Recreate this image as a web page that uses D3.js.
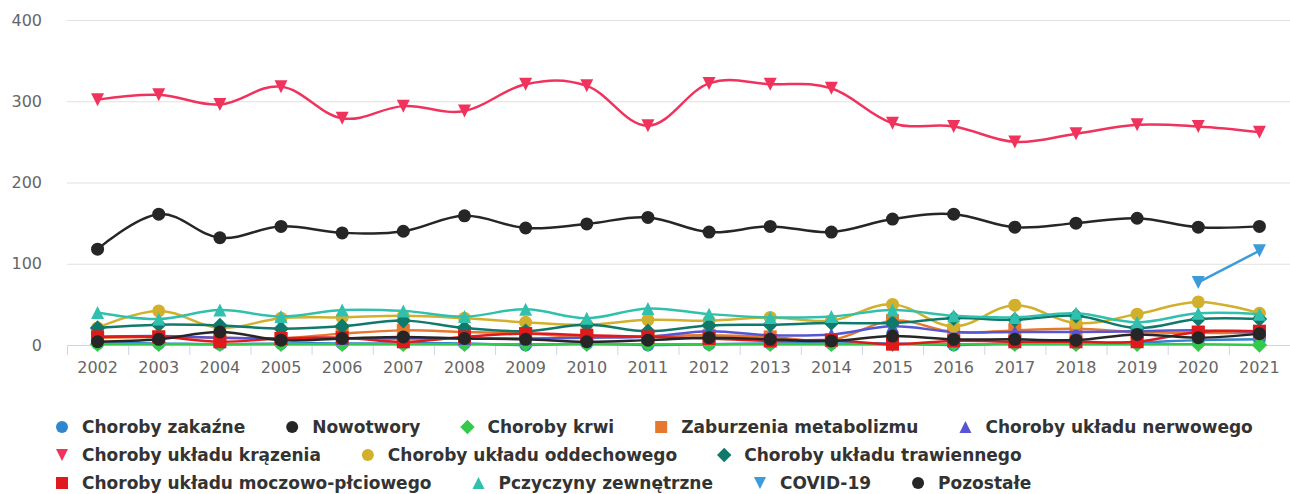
<!DOCTYPE html>
<html><head><meta charset="utf-8">
<script src="https://cdn.jsdelivr.net/npm/d3@7"></script>
<style>
html,body{margin:0;padding:0;background:#fff;}
svg{display:block;}
</style></head>
<body>
<svg id="chart" width="1290" height="494"></svg>
<script>
const years = ["2002","2003","2004","2005","2006","2007","2008","2009","2010","2011","2012","2013","2014","2015","2016","2017","2018","2019","2020","2021"];
const yTicks = [0,100,200,300,400];

const seriesNames = ["Choroby zakaźne","Nowotwory","Choroby krwi","Zaburzenia metabolizmu","Choroby układu nerwowego","Choroby układu krązenia","Choroby układu oddechowego","Choroby układu trawiennego","Choroby układu moczowo-płciowego","Pczyczyny zewnętrzne","COVID-19","Pozostałe"];

const zakazne     = [2,2,1,2,2,2,2,0,2,0,1,2,2,2,0,2,2,3,6,7];
const nowotwory   = [118,161,132,146,138,140,159,144,149,157,139,146,139,155,161,145,150,156,145,146];
const krwi        = [1,1,1,1,1,1,1,1,1,1,1,1,1,1,1,1,1,1,1,0];
const metabolizm  = [9,10,9,8,14,18,16,14,10,11,12,10,6,30,16,18,20,16,15,15];
const nerwowego   = [10,11,9,8,8,8,8,8,9,10,17,12,13,23,16,16,16,17,18,16];
const krazenia    = [302,308,296,318,279,294,288,321,319,270,322,321,316,273,269,250,260,271,269,262];
const oddechowego = [21,42,21,33,34,36,33,28,25,31,30,34,30,50,23,49,27,38,53,39];
const trawiennego = [21,25,24,20,23,30,21,17,25,17,24,25,27,27,33,31,36,21,32,32];
const moczowo     = [10,10,4,8,9,4,10,14,12,10,8,5,6,1,5,4,4,4,16,17];
const zewnetrzne  = [40,32,43,35,43,42,35,44,33,45,38,34,35,43,36,34,39,28,39,38];
const covid       = [null,null,null,null,null,null,null,null,null,null,null,null,null,null,null,null,null,null,77,116];
const pozostale   = [4,7,16,6,8,10,8,7,4,6,9,7,5,11,7,7,6,13,9,14];

const seriesValues = [zakazne,nowotwory,krwi,metabolizm,nerwowego,krazenia,oddechowego,trawiennego,moczowo,zewnetrzne,covid,pozostale];
const seriesColors = ["#2f86cc","#262626","#34c94a","#e8772e","#5656d4","#f0335d","#d2b02c","#0f7a6b","#e0191c","#30c0ad","#3c9bd8","#262626"];
const seriesSymbols = ["circle","circle","diamond","square","triangle","triangleDown","circle","diamond","square","triangle","triangleDown","circle"];

const svg = d3.select("#chart");
const plotLeft = 67, plotRight = 1290, plotTop = 20, plotBottom = 345;

const x = d3.scaleBand().domain(years).range([plotLeft, plotRight]).padding(0);
const y = d3.scaleLinear().domain([0,400]).range([plotBottom, plotTop]);
const cx = d => x(d) + x.bandwidth()/2;

// gridlines
svg.append("g").selectAll("line").data(yTicks.filter(t=>t>0)).join("line")
  .attr("x1", plotLeft).attr("x2", plotRight)
  .attr("y1", d=>y(d)+0.5).attr("y2", d=>y(d)+0.5)
  .attr("stroke","#e3dfdb").attr("stroke-width",1);

// y labels
svg.append("g").selectAll("text").data(yTicks).join("text")
  .attr("x", 42).attr("y", d=>y(d)).attr("dy","0.35em")
  .attr("text-anchor","end")
  .attr("font-family","'DejaVu Sans', sans-serif").attr("font-size","16px")
  .attr("fill","#666").text(d=>d);

// x axis
const xAxis = d3.axisBottom(x).tickSize(0).tickPadding(17);
const gx = svg.append("g").attr("transform",`translate(0,${plotBottom})`).call(xAxis);
gx.select(".domain").attr("stroke","#ccd6eb").attr("stroke-width",1);
gx.selectAll("text").attr("font-family","'DejaVu Sans', sans-serif").attr("font-size","16px").attr("fill","#666");
// tick marks at band boundaries
svg.append("g").selectAll("line").data(years).join("line")
  .attr("x1", d=>x(d)+0.5).attr("x2", d=>x(d)+0.5)
  .attr("y1", plotBottom).attr("y2", plotBottom+10)
  .attr("stroke","#ccd6eb").attr("stroke-width",1);

function symbolPath(type, s) {
  switch(type){
    case "circle": return `M${-s},0A${s},${s} 0 1,0 ${s},0A${s},${s} 0 1,0 ${-s},0Z`;
    case "square": return `M${-s},${-s}H${s}V${s}H${-s}Z`;
    case "diamond": return `M0,${-s*1.2}L${s*1.2},0L0,${s*1.2}L${-s*1.2},0Z`;
    case "triangle": return `M0,${-s}L${s},${s}L${-s},${s}Z`;
    case "triangleDown": return `M${-s},${-s}L${s},${-s}L0,${s}Z`;
  }
}

const line = d3.line().defined(d=>d.v!=null).x(d=>cx(d.year)).y(d=>y(d.v)).curve(d3.curveCardinal.tension(-0.1));

seriesNames.forEach((name,i)=>{
  const data = years.map((yr,j)=>({year:yr, v:seriesValues[i][j]}));
  const g = svg.append("g");
  g.append("path").datum(data).attr("d", line)
    .attr("fill","none").attr("stroke", seriesColors[i]).attr("stroke-width",2.5)
    .attr("stroke-linejoin","round").attr("stroke-linecap","round");
  g.selectAll("path.m").data(data.filter(d=>d.v!=null)).join("path").attr("class","m")
    .attr("transform", d=>`translate(${cx(d.year)},${y(d.v)})`)
    .attr("d", symbolPath(seriesSymbols[i], 6.5))
    .attr("fill", seriesColors[i]);
});

// legend with flow layout
const legend = svg.append("g");
const rowYs = [427, 455, 483];
const startX = 62, maxX = 1282, itemDistance = 47, textOffset = 20;
let row = 0, curX = startX;
seriesNames.forEach((name,i)=>{
  const item = legend.append("g");
  const t = item.append("text").attr("x", textOffset).attr("dy","0.35em")
    .attr("font-family","'DejaVu Sans', sans-serif").attr("font-weight","bold")
    .attr("font-size","17px").attr("fill","#333").text(name);
  item.append("path").attr("d", symbolPath(seriesSymbols[i], 6)).attr("fill", seriesColors[i]);
  const w = textOffset + t.node().getComputedTextLength();
  if (curX + w > maxX) { row++; curX = startX; }
  item.attr("transform", `translate(${curX},${rowYs[row]})`);
  curX += w + itemDistance;
});
</script>
</body></html>
